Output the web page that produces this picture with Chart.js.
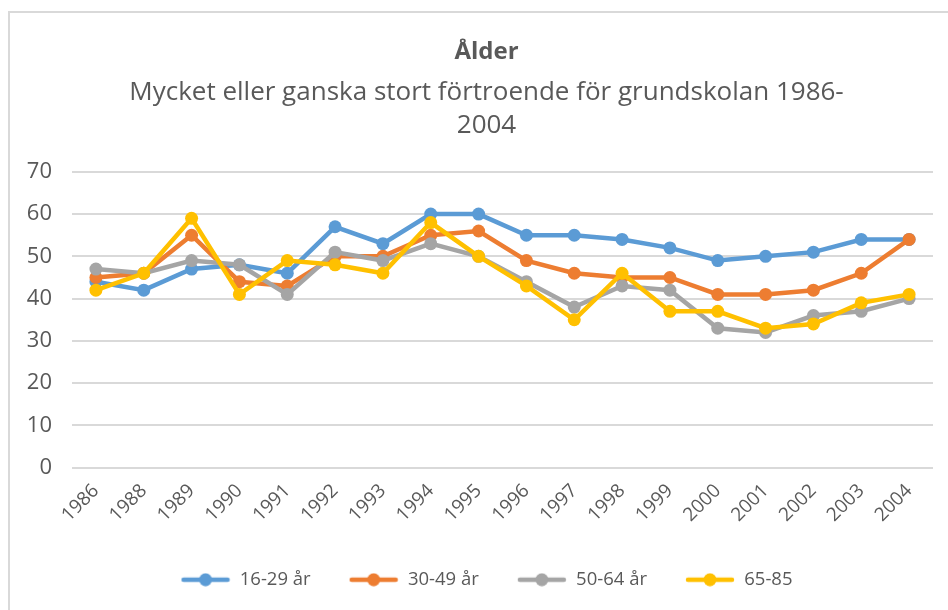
<!DOCTYPE html>
<html>
<head>
<meta charset="utf-8">
<script src="https://cdn.jsdelivr.net/npm/chart.js@4.4.1/dist/chart.umd.min.js"></script>
<style>
  html, body { margin: 0; padding: 0; background: #fff; overflow: hidden; }
  #wrap { position: relative; width: 948px; height: 610px; }
  #frame { position: absolute; left: 8px; top: 11px; width: 960px; height: 620px; border: 2px solid #d9d9d9; box-sizing: border-box; }
  #chart { position: absolute; left: 0; top: 0; }
</style>
</head>
<body>
<div id="wrap">
  <div id="frame"></div>
  <canvas id="chart" width="948" height="610"></canvas>
</div>
<script>
// ─── Données ─────────────────────────────
const years = ['1986','1988','1989','1990','1991','1992','1993','1994','1995','1996','1997','1998','1999','2000','2001','2002','2003','2004'];
const age16_29 = [44, 42, 47, 48, 46, 57, 53, 60, 60, 55, 55, 54, 52, 49, 50, 51, 54, 54];
const age30_49 = [45, 46, 55, 44, 43, 50, 50, 55, 56, 49, 46, 45, 45, 41, 41, 42, 46, 54];
const age50_64 = [47, 46, 49, 48, 41, 51, 49, 53, 50, 44, 38, 43, 42, 33, 32, 36, 37, 40];
const age65_85 = [42, 46, 59, 41, 49, 48, 46, 58, 50, 43, 35, 46, 37, 37, 33, 34, 39, 41];
const seriesNames = ['16-29 år', '30-49 år', '50-64 år', '65-85'];
const colors = ['#5B9BD5', '#ED7D31', '#A5A5A5', '#FFC000'];
const yTicks = [0, 10, 20, 30, 40, 50, 60, 70];

const FONT = '"Open Sans", Lato, sans-serif';
const GREY = '#595959';

// ─── Icône légende (ligne + point) ───────
function legendIcon(color) {
  const c = document.createElement('canvas');
  c.width = 50; c.height = 14;
  const g = c.getContext('2d');
  g.strokeStyle = color; g.lineWidth = 4.5; g.lineCap = 'round';
  g.beginPath(); g.moveTo(3, 7); g.lineTo(47, 7); g.stroke();
  g.fillStyle = color;
  g.beginPath(); g.arc(25, 7, 6.5, 0, Math.PI * 2); g.fill();
  return c;
}
const icons = colors.map(legendIcon);

// Titre + légende centrés sur le cadre, pas sur le canvas
const shiftBoxes = {
  id: 'shiftBoxes',
  afterLayout(chart) {
    chart.boxes.forEach(b => {
      if (b instanceof Chart.Scale) return;
      b.left = 40;
      b.width = b.right - b.left;
    });
  }
};

const allSeries = [age16_29, age30_49, age50_64, age65_85];
const datasets = allSeries.map((data, i) => ({
  label: seriesNames[i],
  data,
  borderColor: colors[i],
  backgroundColor: colors[i],
  borderWidth: 4.5,
  pointRadius: 6.5,
  pointHoverRadius: 7,
  pointBorderWidth: 0,
  tension: 0,
  order: allSeries.length - i   // série suivante dessinée par-dessus
}));

new Chart(document.getElementById('chart'), {
  type: 'line',
  data: { labels: years, datasets },
  plugins: [shiftBoxes],
  options: {
    responsive: false,
    animation: false,
    layout: { padding: { left: 0, right: 15, top: 0, bottom: 11 } },
    plugins: {
      title: {
        display: true,
        text: 'Ålder',
        color: GREY,
        font: { family: FONT, size: 24, weight: 'bold' },
        padding: { top: 38, bottom: 9 }
      },
      subtitle: {
        display: true,
        text: ['Mycket eller ganska stort förtroende för grundskolan 1986-', '2004'],
        color: GREY,
        font: { family: FONT, size: 26, lineHeight: 1.27 },
        padding: { top: 0, bottom: 30 }
      },
      legend: {
        position: 'bottom',
        labels: {
          usePointStyle: true,
          pointStyleWidth: 50,
          padding: 38,
          color: GREY,
          font: { family: FONT, size: 18.5 },
          generateLabels: chart => chart.data.datasets.map((ds, i) => ({
            text: ds.label,
            pointStyle: icons[i],
            fillStyle: ds.borderColor,
            strokeStyle: ds.borderColor,
            fontColor: GREY,
            lineWidth: 0,
            hidden: !chart.isDatasetVisible(i),
            datasetIndex: i
          }))
        }
      },
      tooltip: { enabled: false }
    },
    scales: {
      x: {
        offset: true,
        afterFit: scale => { scale.height -= 6; },
        grid: { display: false, drawTicks: false },
        border: { display: false },
        ticks: {
          color: GREY,
          font: { family: FONT, size: 19 },
          maxRotation: 45,
          minRotation: 45,
          padding: 12,
          autoSkip: false
        }
      },
      y: {
        min: 0,
        max: 70,
        afterBuildTicks: scale => { scale.ticks = yTicks.map(v => ({ value: v })); },
        afterFit: scale => { scale.width = 72; },
        grid: { color: '#d9d9d9', lineWidth: 2, drawTicks: false },
        border: { display: false },
        ticks: {
          color: GREY,
          font: { family: FONT, size: 22 },
          padding: 20
        }
      }
    }
  }
});
</script>
</body>
</html>
